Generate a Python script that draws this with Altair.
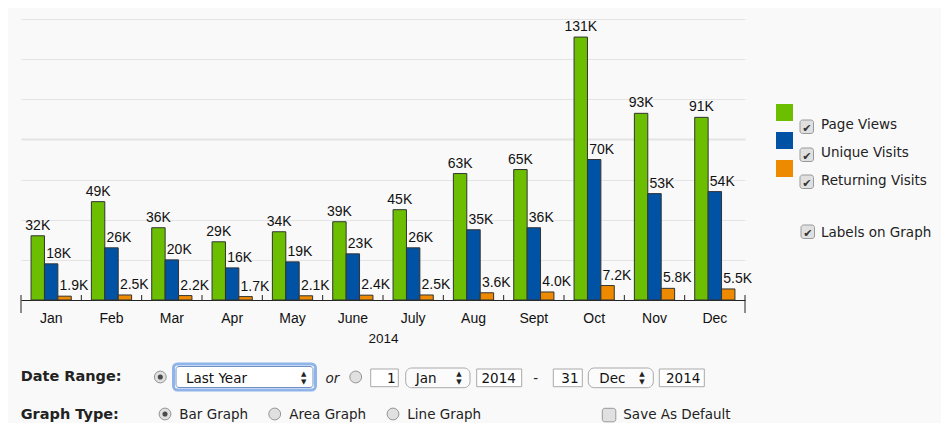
import altair as alt
import pandas as pd

# ---------------- data ----------------
months = ["Jan", "Feb", "Mar", "Apr", "May", "June", "July", "Aug", "Sept", "Oct", "Nov", "Dec"]
series = ["Page Views", "Unique Visits", "Returning Visits"]
page_views = [32000, 49000, 36000, 29000, 34000, 39000, 45000, 63000, 65000, 131000, 93000, 91000]
unique_visits = [18000, 26000, 20000, 16000, 19000, 23000, 26000, 35000, 36000, 70000, 53000, 54000]
returning_visits = [1900, 2500, 2200, 1700, 2100, 2400, 2500, 3600, 4000, 7200, 5800, 5500]
colors = ["#6cbe00", "#0053a4", "#ee8a00"]
year_title = "2014"
grid_values = [0, 20000, 40000, 60000, 80000, 100000, 120000, 140000]

# UI texts
ui_date_range = "Date Range:"
ui_graph_type = "Graph Type:"
ui_range_choice = "Last Year"
ui_or = "or"
ui_from_day, ui_from_month, ui_from_year = "1", "Jan", "2014"
ui_dash = "-"
ui_to_day, ui_to_month, ui_to_year = "31", "Dec", "2014"
ui_graph_types = ["Bar Graph", "Area Graph", "Line Graph"]
ui_save = "Save As Default"
ui_labels_on = "Labels on Graph"


def fmt(v):
    return f"{round(v / 1000)}K" if v >= 10000 else f"{v / 1000:.1f}K"


rows = []
for vals, s in zip([page_views, unique_visits, returning_visits], series):
    for m, v in zip(months, vals):
        rows.append({"month": m, "series": s, "value": v, "label": fmt(v)})
df = pd.DataFrame(rows)

# ---------------- layout ----------------
W, H = 724, 281
PAD_L, PAD_T, PAD_R, PAD_B = 13, 11, 196, 123
OX, OY = 8 + PAD_L, 8 + PAD_T
CHART_FONT = "Liberation Sans"
UI_FONT = "DejaVu Sans"

step = W / (len(months) - 1 / 3 + 2 * (1 / 6))
half_gap = step / 3 / 2

# legend swatch: a square drawn above the label row (unit coords, scaled by sqrt(size)/2)
SWATCH_PATH = "M-1,-2.447L1,-2.447L1,-0.447L-1,-0.447Z"

xscale = alt.Scale(domain=months, paddingInner=1 / 3, paddingOuter=1 / 6)
xaxis = alt.Axis(title=year_title, labelFont=CHART_FONT, labelFontSize=14, labelColor="#111",
                 labelAngle=0, labelPadding=11, ticks=False, domain=True, domainColor="#222",
                 domainWidth=1, grid=False, titleFont=CHART_FONT, titleFontSize=13.5,
                 titleFontWeight="normal", titleColor="#111", titlePadding=6)
yscale = alt.Scale(domain=[0, 140000], nice=False, zero=True)
yaxis = alt.Axis(values=grid_values, labels=False, ticks=False, domain=False, grid=True,
                 gridColor="#e4e4e4",
                 gridWidth={"condition": {"test": "datum.value === 80000", "value": 2}, "value": 1},
                 title=None)

X = alt.X("month:N", scale=xscale, axis=xaxis, sort=months)
XO = alt.XOffset("series:N", sort=series, scale=alt.Scale(domain=series, paddingInner=0, paddingOuter=0))
Y = alt.Y("value:Q", scale=yscale, axis=yaxis)

base = alt.Chart(df)

bars = base.mark_bar(stroke="#333", strokeWidth=1).encode(
    x=X, xOffset=XO, y=Y,
    color=alt.Color("series:N", sort=series,
                    scale=alt.Scale(domain=series, range=colors),
                    legend=alt.Legend(title=None, orient="none", legendX=776 - OX, legendY=116.3 - OY,
                                      symbolType=SWATCH_PATH, symbolSize=289, symbolStrokeWidth=0,
                                      symbolOpacity=1, labelFont=UI_FONT, labelFontSize=13.5,
                                      labelColor="#222", labelOffset=28, rowPadding=0, padding=0,
                                      labelBaseline="middle", labelLimit=0)),
)

labels_main = base.transform_filter(alt.datum.series == series[0]).mark_text(
    font=CHART_FONT, fontSize=14, color="#111", align="center", baseline="alphabetic", dy=-6
).encode(x=X, xOffset=XO, y=Y, text="label:N")

labels_rest = base.transform_filter(alt.datum.series != series[0]).mark_text(
    font=CHART_FONT, fontSize=14, color="#111", align="left", baseline="alphabetic", dy=-6, dx=-5
).encode(x=X, xOffset=XO, y=Y, text="label:N")

tick_df = pd.DataFrame({"month": months[1:]})
inner_ticks = alt.Chart(tick_df).mark_rule(color="#222", strokeWidth=1, xOffset=-half_gap).encode(
    x=alt.X("month:N", scale=xscale, axis=xaxis, sort=months, bandPosition=0),
    y=alt.value(H - 5), y2=alt.value(H))

edge_df = pd.DataFrame({"edge": ["left", "right"]})
left_edge = alt.Chart(edge_df.iloc[:1]).mark_rule(color="#222", strokeWidth=1).encode(
    x=alt.value(0), y=alt.value(H - 5), y2=alt.value(H + 13))
right_edge = alt.Chart(edge_df.iloc[1:]).mark_rule(color="#222", strokeWidth=1).encode(
    x=alt.value(W), y=alt.value(H - 5), y2=alt.value(H + 13))


# ---------------- UI chrome helpers ----------------
def ui_text(t, x, y, size=13.5, weight="normal", style="normal", color="#222", align="left",
            baseline="alphabetic", font=UI_FONT):
    return alt.Chart(pd.DataFrame({"t": [t]})).mark_text(
        align=align, baseline=baseline, font=font, fontSize=size, fontWeight=weight,
        fontStyle=style, color=color).encode(x=alt.value(x - OX), y=alt.value(y - OY), text="t:N")


def ui_rect(x0, y0, x1, y1, fill="#ffffff", stroke="#a9a9a9", sw=1, r=0):
    return alt.Chart(pd.DataFrame({"k": [0]})).mark_rect(
        fill=fill, stroke=stroke, strokeWidth=sw, cornerRadius=r).encode(
        x=alt.value(x0 - OX), x2=alt.value(x1 - OX), y=alt.value(y0 - OY), y2=alt.value(y1 - OY))


def ui_radio(cx, cy, selected):
    layers = [alt.Chart(pd.DataFrame({"k": [0]})).mark_circle(
        size=140, fill="#e0e0e0", stroke="#959595", strokeWidth=1, opacity=1).encode(
        x=alt.value(cx - OX), y=alt.value(cy - OY))]
    if selected:
        layers.append(alt.Chart(pd.DataFrame({"k": [0]})).mark_circle(
            size=26, fill="#4a4a4a", opacity=1).encode(x=alt.value(cx - OX), y=alt.value(cy - OY)))
    return layers


def ui_checkbox(x0, y0, checked=True):
    layers = [ui_rect(x0, y0, x0 + 13.5, y0 + 13.5, fill="#e0e0e0", stroke="#999999", r=2.5)]
    if checked:
        layers.append(ui_text("\u2714", x0 + 6.8, y0 + 11.5, size=11, color="#333", align="center"))
    return layers


def ui_arrows(x, ytop):
    return [ui_text("\u25B2", x, ytop + 3.5, size=7, color="#222", align="center", baseline="middle"),
            ui_text("\u25BC", x, ytop + 11.5, size=7, color="#222", align="center", baseline="middle")]


ui = []
# legend checkboxes and labels-on-graph
for y0 in [120, 148, 175]:
    ui += ui_checkbox(800, y0)
ui += ui_checkbox(801, 225)
ui.append(ui_text(ui_labels_on, 821, 236.5))

# date range row
ui.append(ui_text(ui_date_range, 20.7, 380.8, size=14.5, weight="bold", color="#222"))
ui += ui_radio(160.3, 377, True)
ui.append(ui_rect(173.5, 364, 315.5, 390, fill="#ffffff", stroke="#8fb4ea", sw=3, r=4))
ui.append(ui_rect(176, 366.5, 313, 387.5, fill="#ffffff", stroke="#6f8fc4", sw=1, r=3))
ui.append(ui_text(ui_range_choice, 186, 382.5, color="#111"))
ui += ui_arrows(303.8, 370.5)
ui.append(ui_text(ui_or, 325.5, 382.5, style="italic", color="#222"))
ui += ui_radio(355.7, 377, False)
ui.append(ui_rect(370.7, 369, 398.3, 386.7))
ui.append(ui_text(ui_from_day, 395.5, 382.5, align="right", color="#111"))
ui.append(ui_rect(405.7, 368, 470, 387.7, fill="#fbfbfb", stroke="#a9a9a9", r=6))
ui.append(ui_text(ui_from_month, 415.7, 382.5, color="#111"))
ui += ui_arrows(459, 370.5)
ui.append(ui_rect(476.7, 369, 521.7, 386.7))
ui.append(ui_text(ui_from_year, 481.5, 382.5, color="#111"))
ui.append(ui_text(ui_dash, 533.3, 382.5, color="#222"))
ui.append(ui_rect(553.3, 369, 582.3, 386.7))
ui.append(ui_text(ui_to_day, 578.5, 382.5, align="right", color="#111"))
ui.append(ui_rect(588.3, 368, 653.3, 387.7, fill="#fbfbfb", stroke="#a9a9a9", r=6))
ui.append(ui_text(ui_to_month, 599.3, 382.5, color="#111"))
ui += ui_arrows(642, 370.5)
ui.append(ui_rect(659.3, 369, 704.3, 386.7))
ui.append(ui_text(ui_to_year, 666, 382.5, color="#111"))

# graph type row
ui.append(ui_text(ui_graph_type, 20.7, 418.5, size=14.5, weight="bold", color="#222"))
for (cx, tx), label, sel in zip([(165, 179.3), (274.7, 289.3), (393, 407.3)], ui_graph_types,
                                [True, False, False]):
    ui += ui_radio(cx, 414, sel)
    ui.append(ui_text(label, tx, 418.5))
ui += ui_checkbox(602.3, 408.3, checked=False)
ui.append(ui_text(ui_save, 623.3, 418.5))

chart = alt.layer(bars, labels_main, labels_rest, inner_ticks, left_edge, right_edge, *ui).properties(
    width=W, height=H,
    padding={"left": PAD_L, "top": PAD_T, "right": PAD_R, "bottom": PAD_B},
    autosize=alt.AutoSizeParams(type="none"),
    background="#f9f9f9",
).configure_view(strokeWidth=0)

chart.save("out.html", embed_options={"renderer": "svg", "actions": False})
